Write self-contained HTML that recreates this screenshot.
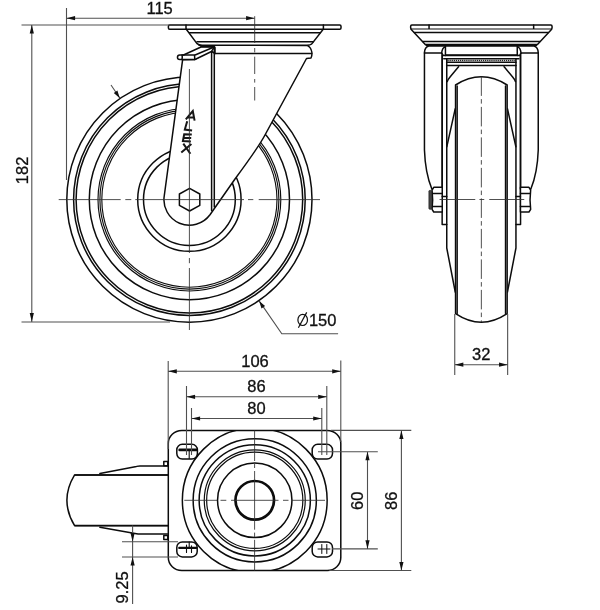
<!DOCTYPE html>
<html>
<head>
<meta charset="utf-8">
<title>Caster drawing</title>
<style>
html,body{margin:0;padding:0;background:#fff;}
body{width:600px;height:610px;overflow:hidden;font-family:"Liberation Sans",sans-serif;}
svg{display:block;position:absolute;left:0;top:0;will-change:transform;}
.k{stroke:#0c0c0c;stroke-width:1.5;fill:none;stroke-linecap:round;stroke-linejoin:round;}
.kw{stroke:#0c0c0c;stroke-width:1.5;fill:#fff;stroke-linecap:round;stroke-linejoin:round;}
.t{stroke:#505050;stroke-width:1.1;fill:none;}
.c{stroke:#303030;stroke-width:0.85;fill:none;}
.a{fill:#111;stroke:none;}
text{font-family:"Liberation Sans",sans-serif;font-size:16.5px;fill:#111;stroke:#111;stroke-width:0.3;}
</style>
</head>
<body>
<svg width="600" height="610" viewBox="0 0 600 610">
<rect x="0" y="0" width="600" height="610" fill="#fff"/>

<!-- ================= FRONT VIEW (top-left) ================= -->
<g id="front">
  <!-- wheel circles -->
  <g class="k">
    <circle cx="189.4" cy="199.6" r="122.6"/>
    <circle cx="189.4" cy="199.6" r="115.8"/>
    <circle cx="189.4" cy="199.6" r="113.3"/>
    <circle cx="189.4" cy="199.6" r="100.1"/>
    <circle cx="189.4" cy="199.6" r="91.4" stroke-width="1.15"/>
    <circle cx="189.4" cy="199.6" r="89.5" stroke-width="1.15"/>
    <circle cx="189.4" cy="199.6" r="87.6" stroke-width="1.15"/>
    <circle cx="189.4" cy="199.6" r="51.7"/>
    <circle cx="189.4" cy="199.6" r="45.9"/>
  </g>
  <!-- fork body -->
  <path class="kw" d="M182.6 59.8 L164.3 195.5 A25.5 25.5 0 0 0 210 214.8 L235 179 Q258.1 147.8 265 135 L306.5 58.5 L311 58 Q312.3 55 311.8 52 Q311 47 307 45.4 L199 45.2 L197.5 42.5 L215 53.5 L215 47.5 L194.5 59.6 Z"/>
  <!-- top plate + dish -->
  <path class="kw" d="M169.6 25 L339.8 25 Q341 25 341 26.2 L341 28 Q341 29.2 339.8 29.2 L323.2 29.2 L312 43.6 Q311 45 307 45.3 L202 45.3 Q199 45 197 43.6 L186.3 29.2 L169.6 29.2 Q168.4 29.2 168.4 28 L168.4 26.2 Q168.4 25 169.6 25 Z"/>
  <path class="k" d="M186 25 V29.2 M323.4 25 V29.2 M186 29.2 H323.4 M189.5 32.7 H320 M197 41.7 H313.4"/>
  <!-- fork top line & lip -->
  <path class="k" d="M215 53.5 H311.6"/>
  <!-- brake tab -->
  <path class="kw" d="M183.5 55 L201 47 L214 47 L211.5 51.5 L195 59.5 L179.7 59.5 A2.25 2.25 0 0 1 179.7 55 Z"/>
  <path class="k" d="M182 55 Q182.6 57.2 182 59.5 M182 55 H194.5 L194.8 59.5 M194.5 55.3 L214 47 M201 46.4 H214.5"/>
  <!-- fork double vertical -->
  <path class="k" d="M211.6 51.5 V210.6 M214.3 48 V207"/>
  <!-- hex bolt -->
  <path class="kw" stroke-width="1.5" d="M189.6 188.3 L199.8 194 L199.8 205.3 L189.6 211 L179.4 205.3 L179.4 194 Z"/>
  <!-- ALEX logo -->
  <g stroke="#161616" stroke-width="2" fill="none" stroke-linecap="butt" stroke-linejoin="miter">
    <path d="M185.8 119.3 L192.8 111 L194.6 120.6 M187.4 117.2 L194 117.5"/>
    <path d="M187.2 121.2 L184.8 129.6 L192.1 130.6"/>
    <path d="M191.8 134.6 L184.2 134.2 L182.9 141.1 L190.9 141.5 M183.6 137.7 L191.2 138"/>
    <path d="M183.3 143.6 L190.4 153.8 M191.4 144 L181.3 152.4"/>
  </g>
  <!-- centerlines -->
  <path class="c" d="M58.7 199.6 H120.7 M125.3 199.6 H131.3 M135.3 199.6 H244 M248 199.6 H253.3 M258.7 199.6 H320"/>
  <path class="c" d="M189.4 69 V253 M189.4 258 V263.2 M189.4 268 V330"/>
  <path class="c" d="M254.7 16.2 V43 M254.7 48 V52.4 M254.7 56.7 V74 M254.7 79 V82.6 M254.7 87 V100.5"/>
  <!-- dimensions -->
  <path class="t" d="M21.5 25 H170 M21.5 322 H170 M31.8 25 V322 M66.5 8 V180 M66.5 18.2 H254.7"/>
  <path class="a" d="M31.8 25 L29.7 33.6 L33.9 33.6 Z M31.8 321.7 L29.7 313.1 L33.9 313.1 Z"/>
  <path class="a" d="M66.5 18.2 L75.1 16.1 L75.1 20.3 Z M254.7 18.2 L246.1 16.1 L246.1 20.3 Z"/>
  <!-- diameter leader -->
  <path class="t" d="M111 85 L119.8 98 M259.3 301.1 L281.8 333.7 H338.1"/>
  <path class="a" d="M119.8 98.2 L113.8 93 L117.4 90.6 Z M259.1 300.9 L265.1 306.1 L261.5 308.5 Z"/>
  <text x="159.6" y="13.6" text-anchor="middle">115</text>
  <text transform="translate(27.9 170.4) rotate(-90)" text-anchor="middle">182</text>
  <text x="308.9" y="325.6">150</text>
  <g stroke="#111" stroke-width="1.2" fill="none"><ellipse cx="302.7" cy="319.9" rx="4.8" ry="5.6"/><path d="M298.4 327.8 L306.7 312.4"/></g>
</g>

<!-- ================= SIDE VIEW (top-right) ================= -->
<g id="side" transform="translate(0.25 0)">
  <!-- top plate -->
  <rect class="kw" x="410.4" y="25" width="141.4" height="4.2" rx="1.2" ry="1.2"/>
  <path class="k" d="M428.8 25 V29.2 M533.4 25 V29.2"/>
  <path class="kw" d="M411 29.6 L425 44.6 H537.2 L551.2 29.6"/>
  <path class="k" d="M414.2 32.6 H548 M422.6 41.6 H539.6"/>
  <path class="k" d="M426 45.4 H536.2" stroke-width="1.9"/>
  <!-- legs -->
  <path class="kw" d="M428.5 46 Q424.4 47 424.2 52.9 V150 Q425 173 431.6 189 H442 V55 H520.2 V189 H530.6 Q537.2 173 538 150 V52.9 Q537.8 47 533.7 46 Z"/>
  <path class="k" d="M424.2 52.9 H441.4 M538 52.9 H520.8"/>
  <path class="kw" d="M441.4 53.6 Q441.7 48 445.2 46.4 V55.4 M520.8 53.6 Q520.5 48 517 46.4 V55.4"/>
  <path class="k" d="M441.9 53.5 V224.4 H446.5 M520.3 53.5 V224.4 H515.7" stroke-width="1.9"/>
  <path class="k" d="M442.5 55.4 H519.7" stroke-width="1.7"/>
  <path class="k" d="M443.5 58.7 H518.7" stroke-width="1.5"/>
  <path class="k" d="M446.4 62.3 H515.8" stroke-width="0.8"/>
  <path class="k" d="M446.4 65.6 H515.8" stroke-width="1.7"/>
  <path d="M447.8 60.5 H515" stroke="#222" stroke-width="1.5" stroke-dasharray="0.01 2.08" stroke-linecap="round" fill="none"/>
  <!-- braces -->
  <path class="k" d="M458.3 66.7 L450 76.8 Q447.6 79.6 447 81.6 M503.9 66.7 L512.2 76.8 Q514.6 79.6 515.2 81.6"/>
  <!-- inner plate / hub lines -->
  <path class="k" d="M446.5 58.7 V248 L455 292 M515.7 58.7 V248 L507.2 292" stroke-width="1.6"/>
  <path class="k" d="M455 108.7 L446.6 146.7 M507.2 108.7 L515.6 146.7"/>
  <!-- wheel -->
  <path class="kw" d="M455.3 313.6 V85 Q481.1 68.6 506.9 85 V313.6 Q481.1 330.8 455.3 313.6 Z" stroke-width="1.5"/>
  <path class="k" d="M456.9 313.5 V86 M505.3 313.5 V86" stroke-width="1.6" stroke-linecap="butt"/>
  <!-- axle bolt left -->
  <path class="kw" d="M431.8 190 L433.5 187.3 H442 V212 H433.5 L431.8 209.3 Q433 199.6 431.8 190 Z"/>
  <path class="k" d="M432.4 193.4 H442 M432.4 206.5 H442 M442 196.6 H446.5"/>
  <rect x="428.7" y="190.4" width="2.7" height="18.8" rx="0.8" fill="#444" stroke="#222" stroke-width="0.8"/>
  <!-- axle bolt right -->
  <path class="kw" d="M530.4 190 L528.7 187.3 H520.2 V212 H528.7 L530.4 209.3 Q529.2 199.6 530.4 190 Z"/>
  <path class="k" d="M529.8 193.4 H520.2 M529.8 206.5 H520.2 M520.2 196.6 H515.7"/>
  <!-- centerlines -->
  <path class="c" d="M439.3 199.5 H475 M479.2 199.5 H484 M489 199.5 H524"/>
  <path class="c" d="M481.1 76.4 V322" stroke-dasharray="19.5 3.2 4.5 3.3"/>
  <!-- dim 32 -->
  <path class="t" d="M454.5 314 V375 M507.4 314 V375 M454.5 364.7 H507.4"/>
  <path class="a" d="M454.5 364.7 L463.1 362.6 L463.1 366.8 Z M507.4 364.7 L498.8 362.6 L498.8 366.8 Z"/>
  <text x="481" y="360" text-anchor="middle">32</text>
</g>

<!-- ================= TOP VIEW (bottom) ================= -->
<g id="top">
  <!-- wheel from top -->
  <path class="kw" d="M168 474.9 H74.6 Q59.2 500.3 74.6 525.7 H168" stroke-width="1.3"/>
  <path class="k" d="M75 475 H168 M75 525.6 H168" stroke-width="2.9" stroke-linecap="butt"/>
  <!-- fork arms -->
  <path class="k" d="M99.9 473.6 L136.5 466.4 Q138 466 140 466 H167.5 M99.9 527.2 L136.5 533.8 Q138 534.1 140 534.1 H167.5"/>
  <path class="k" d="M163.8 461.5 H167.8 V465.8 H163.8 Z M163.8 535.5 H167.8 V539.5 H163.8 Z" stroke-width="1"/>
  <!-- plate -->
  <rect class="kw" x="168.3" y="430.4" width="172.5" height="140.2" rx="13.5" ry="13"/>
  <!-- circles -->
  <clipPath id="pc"><rect x="168.3" y="430.4" width="172.5" height="140.2" rx="13.5" ry="13"/></clipPath>
  <g class="k">
    <circle cx="254.75" cy="500.3" r="72.4" clip-path="url(#pc)"/>
    <circle cx="254.75" cy="500.3" r="61.6"/>
    <circle cx="254.75" cy="500.3" r="55.6"/>
    <circle cx="254.75" cy="500.3" r="50.5" stroke-width="1.2"/>
    <circle cx="254.75" cy="500.3" r="48.1" stroke-width="1.2"/>
    <circle cx="254.75" cy="500.3" r="37.2"/>
    <circle cx="254.75" cy="500.3" r="19.3" stroke-width="2.7"/>
  </g>
  <!-- slots -->
  <g class="kw">
    <rect x="176.8" y="444.3" width="20.6" height="14.8" rx="5.5" ry="5.5"/>
    <rect x="176.8" y="541.9" width="20.4" height="15" rx="5.5" ry="5.5"/>
    <rect x="312.2" y="444.3" width="20.3" height="14.8" rx="5.5" ry="5.5"/>
    <rect x="312.2" y="541.9" width="20.3" height="15" rx="5.5" ry="5.5"/>
  </g>
  <g class="k">
    <path d="M179.6 449.9 H196.3" stroke-width="2.6"/>
    <path d="M189.2 450 V458.5" stroke-width="1.1"/>
    <path d="M179.2 547.9 H196.3" stroke-width="2.1"/>
    <path d="M186.5 545 V552.5 M191.5 545.8 V552.5 M189.2 542 V547.5" stroke-width="1.1"/>
    <path d="M321.8 544.5 V553.5 M326.8 544.5 V553.5 M318 549 H330" stroke-width="1"/>
  </g>
  <!-- centerlines -->
  <path class="c" d="M184.3 500.3 H217 M220.5 500.3 H226.3 M231 500.3 H278.5 M283 500.3 H288.5 M292 500.3 H325"/>
  <path class="c" d="M254.6 430.4 V461 M254.6 463.8 V468 M254.6 471 V529.7 M254.6 532.6 V537 M254.6 539.8 V570.6"/>
  <!-- dims -->
  <path class="t" d="M168.2 361 V449 M340.8 360.5 V442 M168.2 371.3 H340.8"/>
  <path class="t" d="M186.5 386 V455 M326.8 386 V455 M186.5 396.8 H326.8"/>
  <path class="t" d="M191.5 408 V455 M321.8 408 V455 M191.5 418.5 H321.8"/>
  <path class="a" d="M168.2 371.3 L176.8 369.2 L176.8 373.4 Z M340.8 371.3 L332.2 369.2 L332.2 373.4 Z"/>
  <path class="a" d="M186.5 396.8 L195.1 394.7 L195.1 398.9 Z M326.8 396.8 L318.2 394.7 L318.2 398.9 Z"/>
  <path class="a" d="M191.5 418.5 L200.1 416.4 L200.1 420.6 Z M321.8 418.5 L313.2 416.4 L313.2 420.6 Z"/>
  <text x="255" y="367" text-anchor="middle">106</text>
  <text x="256.5" y="391.8" text-anchor="middle">86</text>
  <text x="256.5" y="413.8" text-anchor="middle">80</text>
  <!-- right dims -->
  <path class="t" d="M330.8 430.4 H411.3 M329.3 570.5 H411.3 M401.4 430.4 V570.5"/>
  <path class="t" d="M318 451.7 H377.8 M332 548.9 H377.8 M367.5 451.7 V548.9"/>
  <path class="a" d="M401.4 430.4 L399.3 439.0 L403.5 439.0 Z M401.4 570.5 L399.3 561.9 L403.5 561.9 Z"/>
  <path class="a" d="M367.5 451.7 L365.4 460.3 L369.6 460.3 Z M367.5 548.9 L365.4 540.3 L369.6 540.3 Z"/>
  <text transform="translate(363 500.8) rotate(-90)" text-anchor="middle">60</text>
  <text transform="translate(397.1 500.8) rotate(-90)" text-anchor="middle">86</text>
  <!-- dim 9.25 -->
  <path class="t" d="M132.6 525.6 V604 M122 541.7 H178 M122 557 H178"/>
  <path class="a" d="M132.6 541.7 L130.5 533.1 L134.7 533.1 Z M132.6 557 L130.5 565.6 L134.7 565.6 Z"/>
  <text transform="translate(127.9 587.4) rotate(-90)" text-anchor="middle">9.25</text>
</g>
</svg>
</body>
</html>
